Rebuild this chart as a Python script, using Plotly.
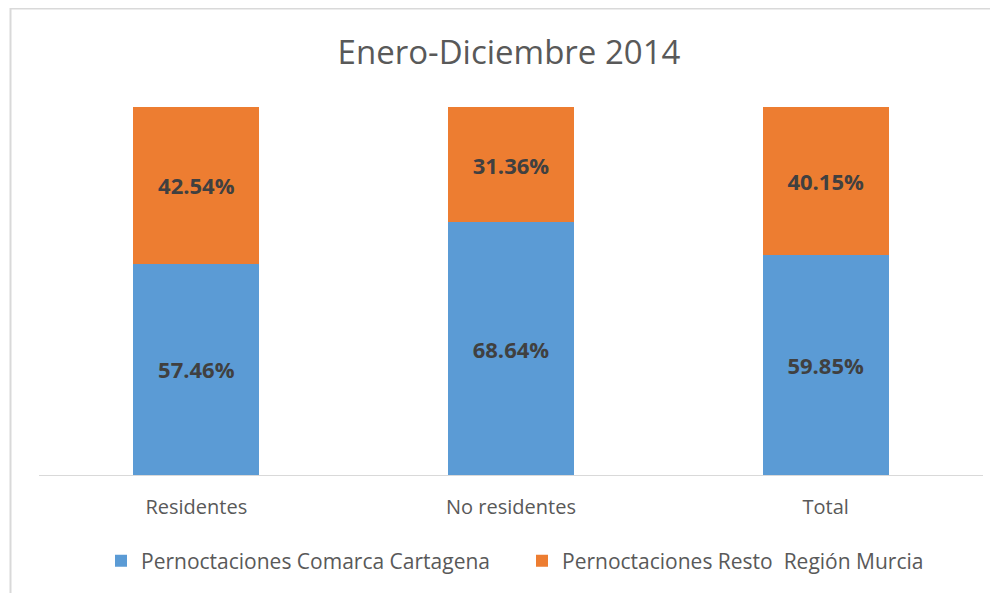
import plotly.graph_objects as go

categories = ["Residentes", "No residentes", "Total"]
comarca = [57.46, 68.64, 59.85]
resto = [42.54, 31.36, 40.15]
series_names = ["Pernoctaciones Comarca Cartagena", "Pernoctaciones Resto  Región Murcia"]
title_text = "Enero-Diciembre 2014"

FONT = "Open Sans, Liberation Sans, sans-serif"

# page body has an 8px margin: figure occupies window x 8..998, y 8..593
W, H = 990, 585
L, T, R, B = 31, 99, 15, 118
PW, PH = W - L - R, H - T - B

fig = go.Figure()
fig.add_trace(go.Bar(
    x=categories, y=comarca, name=series_names[0],
    marker=dict(color="#5b9bd5", line=dict(width=0)),
    texttemplate="<b>%{y:.2f}%</b>", textposition="inside", insidetextanchor="middle",
    textfont=dict(size=22, color="#404040", family=FONT),
))
fig.add_trace(go.Bar(
    x=categories, y=resto, name=series_names[1],
    marker=dict(color="#ed7d31", line=dict(width=0)),
    texttemplate="<b>%{y:.2f}%</b>", textposition="inside", insidetextanchor="middle",
    textfont=dict(size=22, color="#404040", family=FONT),
))

fig.update_layout(
    barmode="stack",
    bargap=0.6,
    width=W, height=H,
    margin=dict(l=L, r=R, t=T, b=B),
    paper_bgcolor="white", plot_bgcolor="white",
    font=dict(family=FONT, color="#595959"),
    title=dict(text=title_text, x=(509 - 8) / W, xanchor="center", y=1 - 44 / H, yanchor="middle",
               font=dict(size=33, color="#595959", family=FONT)),
    xaxis=dict(showline=True, linecolor="#d9d9d9", linewidth=1, ticks="",
               ticklabelstandoff=14,
               tickfont=dict(size=20, color="#595959", family=FONT), showgrid=False),
    yaxis=dict(range=[0, 100], visible=False, showgrid=False),
    legend=dict(orientation="h", x=(522 - 8 - L) / PW, xanchor="center", y=-86 / PH, yanchor="middle",
                font=dict(size=21, color="#595959", family=FONT), traceorder="normal",
                itemwidth=30, entrywidth=376, entrywidthmode="pixels"),
    uniformtext=dict(mode=False),
    showlegend=True,
)

fig.add_shape(type="rect", xref="paper", yref="paper",
              x0=(10.5 - 8 - L) / PW, x1=(1010 - 8 - L) / PW,
              y0=-0.5, y1=(475 - 8.5) / PH,
              line=dict(color="#d9d9d9", width=2), fillcolor="rgba(0,0,0,0)", layer="below")

fig.write_html("out.html")
